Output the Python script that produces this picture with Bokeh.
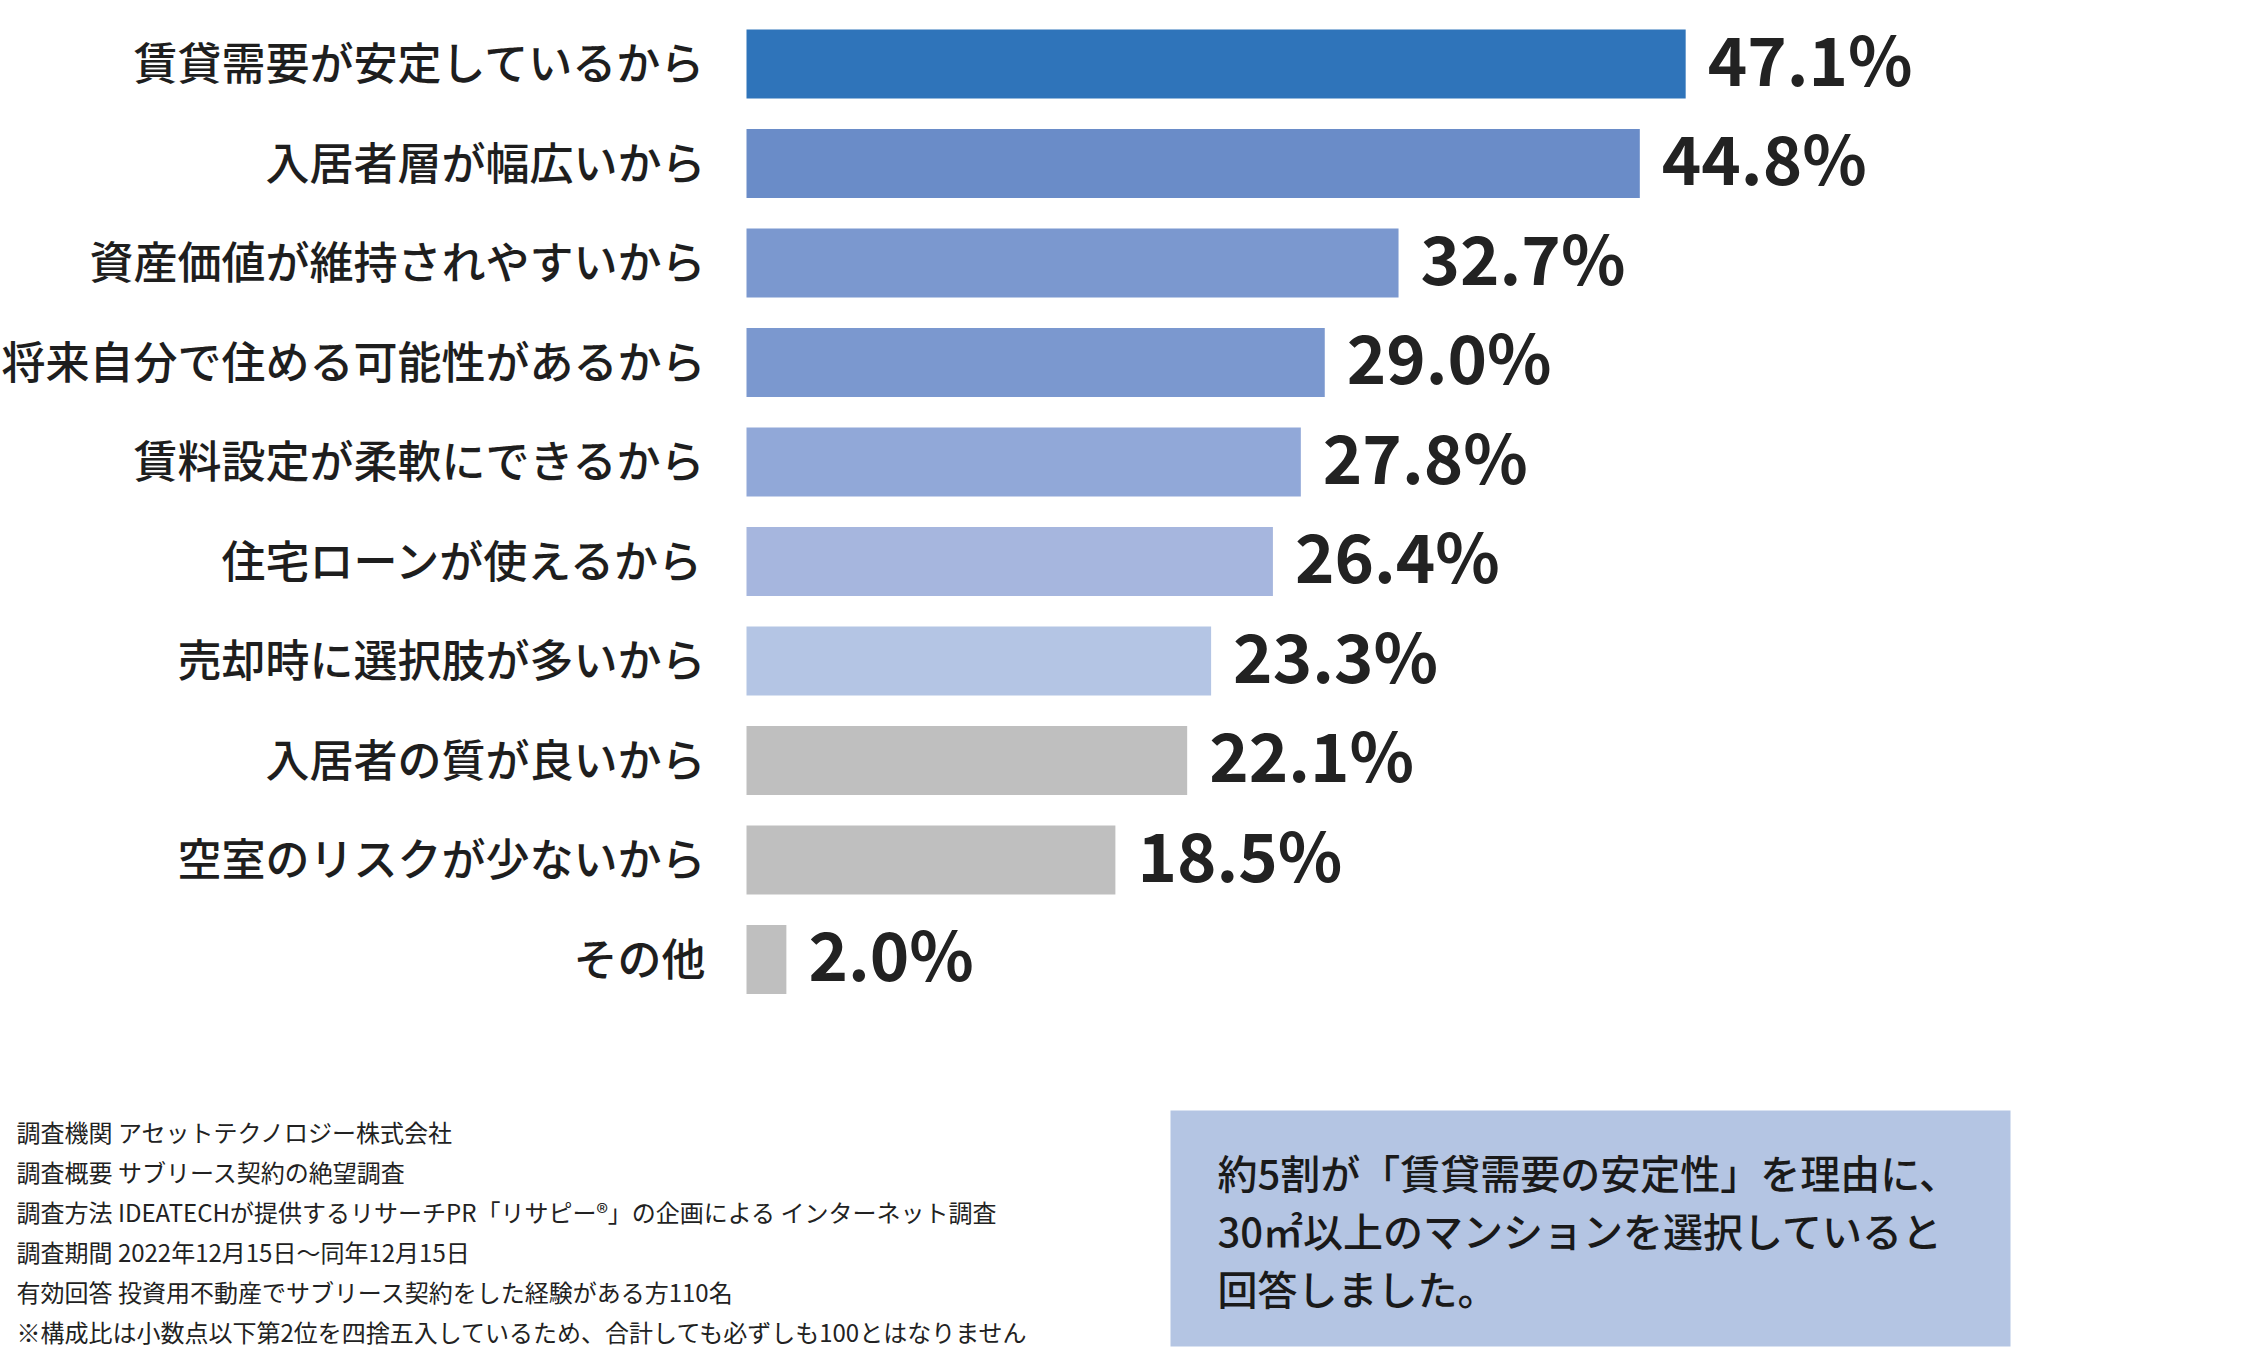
from bokeh.plotting import figure
from bokeh.models import Range1d, ColumnDataSource
from bokeh.core.properties import value
from bokeh.embed import file_html
from bokeh.resources import INLINE

categories = ["賃貸需要が安定しているから", "入居者層が幅広いから", "資産価値が維持されやすいから",
              "将来自分で住める可能性があるから", "賃料設定が柔軟にできるから", "住宅ローンが使えるから",
              "売却時に選択肢が多いから", "入居者の質が良いから", "空室のリスクが少ないから", "その他"]
values = [47.1, 44.8, 32.7, 29.0, 27.8, 26.4, 23.3, 22.1, 18.5, 2.0]
colors = ["#2F74BA", "#6A8CC8", "#7B98CF", "#7B98CF", "#91A8D8", "#A6B6DE", "#B4C5E4",
          "#BFBFBF", "#BFBFBF", "#BFBFBF"]
value_labels = [f"{v:.1f}%" for v in values]

notes = ["調査機関 アセットテクノロジー株式会社",
         "調査概要 サブリース契約の絶望調査",
         "調査方法 IDEATECHが提供するリサーチPR「リサピー®」の企画による インターネット調査",
         "調査期間 2022年12月15日～同年12月15日",
         "有効回答 投資用不動産でサブリース契約をした経験がある方110名",
         "※構成比は小数点以下第2位を四捨五入しているため、合計しても必ずしも100とはなりません"]
callout = ["約5割が「賃貸需要の安定性」を理由に、",
           "30㎡以上のマンションを選択していると",
           "回答しました。"]

W, H = 2264, 1350
PX_PER_PCT = 19.94
X0 = 746.0           # px of value 0
ROW = 99.5           # px per row
Y0 = 63.5            # px (from top) of first row centre

def px2x(px):
    return (px - X0) / PX_PER_PCT

def py2y(py):
    return -(py - Y0) / ROW

FONT = value("Noto Sans CJK JP")
FONT_MED = value("'Noto Sans CJK JP Medium', 'Noto Sans CJK JP'")

p = figure(width=W, height=H, output_backend="svg", toolbar_location=None,
           x_range=Range1d(px2x(0), px2x(W)), y_range=Range1d(py2y(H), py2y(0)),
           min_border=0)
p.axis.visible = False
p.grid.visible = False
p.outline_line_color = None
p.background_fill_color = "white"
p.border_fill_color = "white"

ys = [-i for i in range(len(categories))]
src = ColumnDataSource(dict(y=ys, v=values, c=colors, cat=categories, lab=value_labels,
                            lx=[px2x(705)] * len(categories),
                            ly=[y + 3 / ROW for y in ys],
                            vx=[v + 22 / PX_PER_PCT for v in values],
                            vy=[y + 8 / ROW for y in ys]))

p.hbar(y="y", left=0, right="v", height=69 / ROW, fill_color="c", line_color=None, source=src)
p.text(x="lx", y="ly", text="cat", source=src, text_align="right", text_baseline="middle",
       text_font=FONT_MED, text_font_size="44px", text_color="#1e1e1e")
p.text(x="vx", y="vy", text="lab", source=src, text_align="left", text_baseline="middle",
       text_font=FONT, text_font_size="67px", text_font_style="bold", text_color="#222222")

# footnotes
note_src = ColumnDataSource(dict(x=[px2x(16)] * len(notes),
                                 y=[py2y(1131 + 40 * i) for i in range(len(notes))],
                                 t=notes))
p.text(x="x", y="y", text="t", source=note_src, text_align="left", text_baseline="middle",
       text_font=FONT, text_font_size="24px", text_color="#222222")

# callout box
bx0, bx1, by0, by1 = px2x(1170), px2x(2010), py2y(1346), py2y(1110)
p.quad(left=[bx0], right=[bx1], bottom=[by0], top=[by1], fill_color="#B4C5E3", line_color=None)
call_src = ColumnDataSource(dict(x=[px2x(1217)] * len(callout),
                                 y=[py2y(1171 + 58 * i) for i in range(len(callout))],
                                 t=callout))
p.text(x="x", y="y", text="t", source=call_src, text_align="left", text_baseline="middle",
       text_font=FONT_MED, text_font_size="40px", text_color="#1a1a1a")

open("out.html", "w").write(file_html(p, INLINE))
